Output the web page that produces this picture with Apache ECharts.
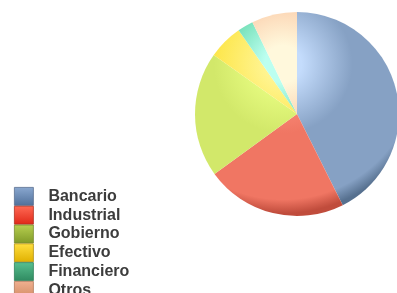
<!DOCTYPE html>
<html><head><meta charset="utf-8">
<script src="https://cdn.jsdelivr.net/npm/echarts@6/dist/echarts.min.js"></script>
<style>html,body{margin:0;padding:0;background:#fff}#c{width:397px;height:293px}</style>
</head><body><div id="c"></div>
<script>
const categories = ['Bancario','Industrial','Gobierno','Efectivo','Financiero','Otros'];
const values = [42.6, 22.4, 19.8, 5.5, 2.5, 7.2];
// pie colours: light, mid, dark
const pieLight = ['#c4dcfc','#ff9686','#eaff84','#fff490','#bcfff0','#fff8dc'];
const pieMid   = ['#86a1c4','#f07663','#d2e86a','#fde64a','#5fd6a6','#fbc9a6'];
const pieDark  = ['#56708f','#c04c3c','#9cae3a','#ccb31a','#36986f','#cc9676'];
// legend swatch colours: top, bottom, border
const legTop = ['#8aa8d0','#ff6a55','#b8d050','#ffe040','#58c090','#f0b090'];
const legBot = ['#50709a','#e02818','#809a28','#e0b000','#2f8a60','#d08860'];
const legBorder = ['#5a7090','#b03020','#7a8a30','#b09010','#30805a','#b07a5a'];

const chart = echarts.init(document.getElementById('c'), null, {renderer:'canvas'});
const cx = 297, cy = 114, R = 102;
const data = categories.map((n,i)=>({
  name:n, value:values[i],
  itemStyle:{
    color: new echarts.graphic.RadialGradient(cx-14, cy-50, 154, [
      {offset:0, color:pieLight[i]},
      {offset:0.12, color:pieLight[i]},
      {offset:0.45, color:pieMid[i]},
      {offset:0.88, color:pieMid[i]},
      {offset:0.97, color:pieDark[i]},
      {offset:1, color:pieDark[i]}
    ], true)
  }
}));
chart.setOption({
  animation:false,
  legend:{
    orient:'vertical', left:14, top:187, padding:0, height:300,
    itemWidth:19, itemHeight:18, itemGap:0,
    icon:'rect',
    textStyle:{fontFamily:'Liberation Sans, Arial, sans-serif', fontWeight:'bold', fontSize:16, lineHeight:14, color:'#3c3c3c', padding:[4,0,0,10]},
    data: categories.map((n,i)=>({name:n, itemStyle:{
      color:new echarts.graphic.LinearGradient(0,0,0,1,[{offset:0,color:legTop[i]},{offset:1,color:legBot[i]}]),
      borderColor:legBorder[i], borderWidth:0.8}}))
  },
  series:[{
    type:'pie', center:[cx,cy], radius:[0,R], startAngle:90, clockwise:true,
    label:{show:false}, labelLine:{show:false}, silent:true,
    itemStyle:{borderWidth:0},
    data:data
  }]
});
</script></body></html>
